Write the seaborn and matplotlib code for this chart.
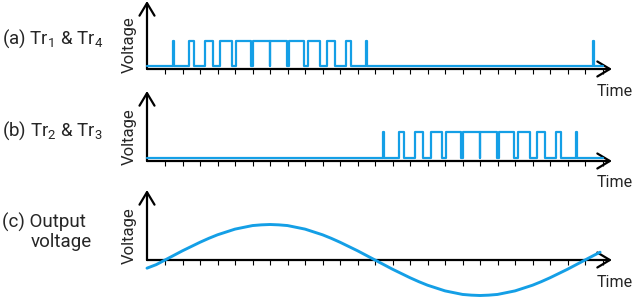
import matplotlib
matplotlib.use("Agg")
import matplotlib.pyplot as plt
import seaborn as sns
import pandas as pd

# ---------------- data ----------------
tick_positions = list(range(26))          # carrier period boundaries on the time axis
x_start, x_end = -1.03, 25.54             # y-axis position / arrow tip (in carrier periods)
wave_end = 25.0

# (a) Tr1 & Tr4 : pulse per carrier period (index) and its width (fraction of the period)
a_periods = [0, 1, 2, 3, 4, 5, 6, 7, 8, 9, 10, 11, 24]
a_widths = [0.04, 0.29, 0.48, 0.69, 0.84, 0.96, 0.96, 0.84, 0.71, 0.48, 0.29, 0.04, 0.04]

# (b) Tr2 & Tr3
b_periods = [12, 13, 14, 15, 16, 17, 18, 19, 20, 21, 22, 23]
b_widths = [0.04, 0.27, 0.46, 0.66, 0.84, 0.96, 0.96, 0.84, 0.69, 0.48, 0.29, 0.04]

# (c) output voltage, read every half tick (relative amplitude)
out_t = [-1.03, -0.5, 0, 0.5, 1, 1.5, 2, 2.5, 3, 3.5, 4, 4.5, 5, 5.5, 6, 6.5, 7, 7.5, 8,
         8.5, 9, 9.5, 10, 10.5, 11, 11.5, 12, 12.5, 13, 13.5, 14, 14.5, 15, 15.5, 16,
         16.5, 17, 17.5, 18, 18.5, 19, 19.5, 20, 20.5, 21, 21.5, 22, 22.5, 23, 23.5, 24,
         24.5, 24.86]
out_v = [-0.23, -0.13, 0.0, 0.13, 0.26, 0.38, 0.5, 0.61, 0.71, 0.79, 0.87, 0.92, 0.97,
         0.99, 1.0, 0.99, 0.97, 0.92, 0.87, 0.79, 0.71, 0.61, 0.5, 0.38, 0.26, 0.13, 0.0,
         -0.13, -0.26, -0.38, -0.5, -0.61, -0.71, -0.79, -0.87, -0.92, -0.97, -0.99, -1.0,
         -0.99, -0.97, -0.92, -0.87, -0.79, -0.71, -0.61, -0.5, -0.38, -0.26, -0.13, 0.0,
         0.13, 0.22]

panel_labels = ["(a) Tr$_1$ & Tr$_4$", "(b) Tr$_2$ & Tr$_3$", "(c) Output", "voltage"]
axis_label_y = "Voltage"
axis_label_x = "Time"

# ---------------- style ----------------
sns.set_style("white")
plt.rcParams["font.family"] = ["Roboto", "DejaVu Sans"]
plt.rcParams["mathtext.fontset"] = "custom"
plt.rcParams["mathtext.rm"] = "Roboto"
plt.rcParams["mathtext.it"] = "Roboto:italic"
plt.rcParams["mathtext.bf"] = "Roboto:bold"

BLUE = "#149fe6"
W, H = 637, 297
fig = plt.figure(figsize=(W / 100, H / 100), dpi=100)


def fx(px):
    return px / W


def fy(py):
    return 1 - py / H


def make_axes(axis_py, top_py, ylim_lo, ylim_hi):
    left, right = 147, 612
    ax = fig.add_axes([fx(left), fy(axis_py), (right - left) / W, (axis_py - top_py) / H])
    ax.set_xlim(x_start, x_end)
    ax.set_ylim(ylim_lo, ylim_hi)
    for s in ax.spines.values():
        s.set_visible(False)
    ax.set_xticks(tick_positions)
    ax.set_yticks([])
    ax.tick_params(axis="x", bottom=True, direction="out", length=3.4, width=0.8,
                   color="black", labelbottom=False)
    ax.patch.set_alpha(0)
    arrow = dict(arrowstyle="->,head_length=0.45,head_width=0.27", lw=1.6,
                 color="black", shrinkA=0, shrinkB=0, mutation_scale=20)
    ax.annotate("", xy=(1, 0), xytext=(0, 0), xycoords="axes fraction",
                textcoords="axes fraction", arrowprops=arrow, annotation_clip=False, zorder=2)
    ax.annotate("", xy=(0, 1), xytext=(0, 0), xycoords="axes fraction",
                textcoords="axes fraction", arrowprops=arrow, annotation_clip=False, zorder=2)
    return ax


def pulse_frame(periods, widths):
    xs, ys = [x_start], [0]
    for k, w in zip(periods, widths):
        c = k + 0.5
        xs += [c - w / 2, c + w / 2]
        ys += [1, 0]
    xs.append(wave_end)
    ys.append(0)
    return pd.DataFrame({"t": xs, "v": ys})


# panel geometry (pixels): axis line, arrow tip
unit_a = 25.5
ax_a = make_axes(69, 1, -2.6 / unit_a, (69 - 1 - 2.6) / unit_a)
unit_b = 26.0
ax_b = make_axes(161, 91, -3.0 / unit_b, (161 - 91 - 3.0) / unit_b)
unit_c = 35.5
ax_c = make_axes(260, 190, 0, 70 / unit_c)

for ax, per, wid in [(ax_a, a_periods, a_widths), (ax_b, b_periods, b_widths)]:
    df = pulse_frame(per, wid)
    sns.lineplot(data=df, x="t", y="v", ax=ax, color=BLUE, lw=1.6, estimator=None,
                 sort=False, drawstyle="steps-post", clip_on=False, zorder=3)

sns.lineplot(x=out_t, y=out_v, ax=ax_c, color=BLUE, lw=2.1, estimator=None,
             clip_on=False, zorder=3)

for ax in (ax_a, ax_b, ax_c):
    ax.set_xlabel("")
    ax.set_ylabel("")

# ---------------- text ----------------
FS = 13.5
fig.text(fx(2), fy(44), panel_labels[0], fontsize=FS, va="baseline", ha="left")
fig.text(fx(2), fy(136), panel_labels[1], fontsize=FS, va="baseline", ha="left")
fig.text(fx(2), fy(228), panel_labels[2], fontsize=FS, va="baseline", ha="left")
fig.text(fx(31), fy(247), panel_labels[3], fontsize=FS, va="baseline", ha="left")

for axis_py in (69, 161, 260):
    fig.text(fx(129), fy(axis_py + 4), axis_label_y, fontsize=12, rotation=90,
             ha="center", va="bottom")
for base_py in (96, 187, 287):
    fig.text(fx(597), fy(base_py), axis_label_x, fontsize=11.5, va="baseline", ha="left")

fig.savefig("out.png", dpi=100)
